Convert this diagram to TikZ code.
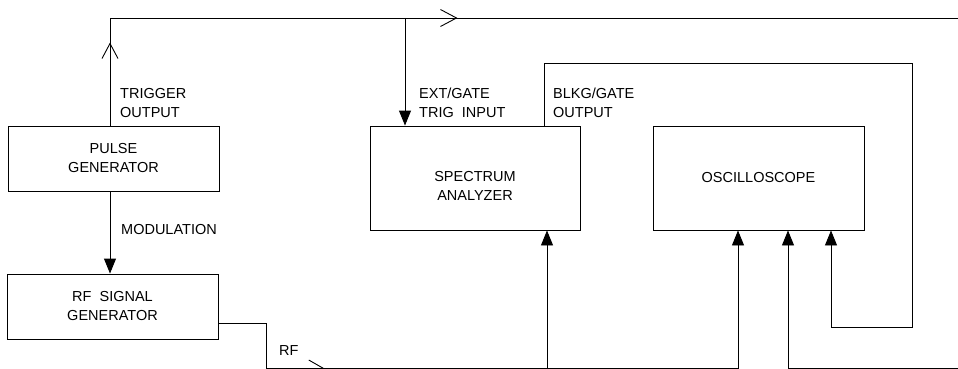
\documentclass[tikz,border=0pt]{standalone}
\usepackage{fontspec}
\setmainfont{Liberation Sans}
\usetikzlibrary{arrows.meta, positioning, decorations.markings}

\tikzset{
  box/.style={draw, line width=0.9pt, minimum width=211pt, inner sep=0pt,
    align=center, font=\fontsize{14.5}{19}\selectfont},
  lbl/.style={anchor=west, align=left, inner sep=0pt,
    font=\fontsize{14.5}{19}\selectfont},
  wire/.style={line width=0.9pt},
  feed/.style={wire, -{Triangle[length=15pt, width=12pt]}}
}

\begin{document}
\begin{tikzpicture}[x=1pt, y=-1pt]
    \useasboundingbox (0,0) rectangle (958,369);
    % instruments
    \node[box, minimum height=65pt]  (pulse) at (113.5,158.5) {PULSE\\GENERATOR};
    \node[box, minimum height=65pt]  (rfgen) at (112.5,306.5) {RF\ \ SIGNAL\\GENERATOR};
    \node[box, minimum height=104pt, minimum width=210pt,
      label={[name=specTxt, lbl, anchor=center, align=center, yshift=-8pt]center:SPECTRUM\\ANALYZER}]
      (spec) at (475,178) {};
    \node[box, minimum height=104pt] (scope) at (758.5,178) {OSCILLOSCOPE};

    % bends of the cables
    \coordinate (trigTop) at (110,18);
    \coordinate (topEnd)  at (958,18);
    \coordinate (extTap)  at (405,18);
    \coordinate (blkgA)   at (544,63);
    \coordinate (blkgB)   at (912,327);
    \coordinate (blkgC)   at (831,327);
    \coordinate (rfA)     at (266,323);
    \coordinate (rfB)     at (738,368);
    \coordinate (rfTap)   at (547,368);
    \coordinate (scopeIn) at (788,368);
    \coordinate (botEnd)  at (958,368);

    % trigger line
    \draw[wire, postaction={decorate}, decoration={markings,
        mark=at position 83pt with {\arrow{Straight Barb[length=15pt, width=16pt]}},
        mark=at position 455pt with {\arrow{Straight Barb[length=16pt, width=17pt]}}}]
      (pulse.north -| trigTop) -- (trigTop) -- (topEnd);
    \draw[feed] (extTap) -- (spec.north -| extTap);
    \draw[feed] (pulse.south -| trigTop) -- (rfgen.north -| trigTop);

    % gate output to scope
    \draw[feed] (spec.north -| blkgA) -- (blkgA) -| (blkgB) -- (blkgC) -- (scope.south -| blkgC);

    % rf
    \draw[feed, postaction={decorate}, decoration={markings,
        mark=at position 151pt with {\arrow{Straight Barb[left, length=14pt, width=16pt]}}}]
      (rfgen.east |- rfA) -- (rfA) |- (rfB) -- (scope.south -| rfB);
    \draw[feed] (rfTap) -- (spec.south -| rfTap);
    \draw[feed] (botEnd) -- (scopeIn) -- (scope.south -| scopeIn);

    \foreach \name/\x/\y/\txt in {%
      trigLbl/120/103/{TRIGGER\\OUTPUT},
      modLbl/121/230/{MODULATION},
      extLbl/419/103/{EXT/GATE\\TRIG\ \ INPUT},
      blkgLbl/553/103/{BLKG/GATE\\OUTPUT},
      rfLbl/279/351/{RF}}{%
      \node[lbl] (\name) at (\x,\y) {\txt};
    }
\end{tikzpicture}
\end{document}
